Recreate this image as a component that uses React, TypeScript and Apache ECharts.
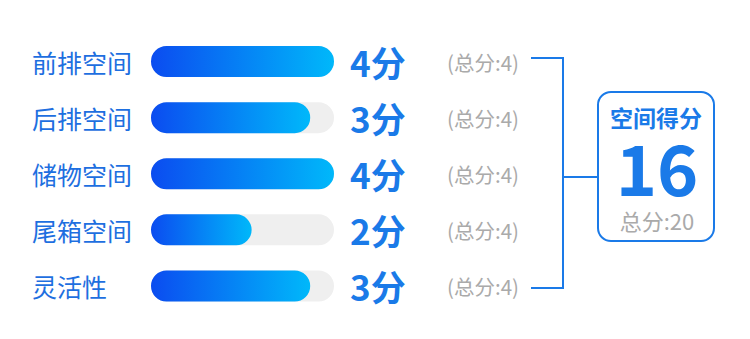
import React, { useEffect, useRef } from "react";
import * as echarts from "echarts";

const categories = ["前排空间", "后排空间", "储物空间", "尾箱空间", "灵活性"];
const scores = [4, 3, 4, 2, 3];
const maxScores = [4, 4, 4, 4, 4];
const barPercent = [100, 87, 100, 55, 87];
const trackValues = [100, 100, 100, 100, 100];
const totalTitle = "空间得分";
const totalScore = 16;
const totalMax = 20;

const FONT = "'Noto Sans CJK SC', 'Noto Sans', sans-serif";
const BLUE = "#1a7ae8";

export default function App() {
  const ref = useRef<HTMLDivElement>(null);
  useEffect(() => {
    if (!ref.current) return;
    const chart = echarts.init(ref.current, undefined, { renderer: "svg" });
    chart.setOption({
      animation: false,
      textStyle: { fontFamily: FONT },
      grid: { left: 151, right: 416, top: 33.5, bottom: 25 },
      xAxis: { type: "value", min: 0, max: 100, show: false },
      yAxis: {
        type: "category",
        inverse: true,
        data: categories,
        axisLine: { show: false },
        axisTick: { show: false },
        splitLine: { show: false },
        axisLabel: {
          align: "left",
          margin: 119,
          fontSize: 25,
          color: "#1e6fe0",
          fontFamily: FONT,
        },
      },
      series: [
        {
          type: "bar",
          data: trackValues,
          barWidth: 31,
          silent: true,
          itemStyle: { color: "#efefef", borderRadius: 15.5 },
          label: {
            show: true,
            position: "right",
            distance: 16,
            formatter: (p: any) =>
              `{a|${scores[p.dataIndex]}分}{b|(总分:${maxScores[p.dataIndex]})}`,
            rich: {
              a: {
                width: 97,
                fontSize: 35,
                fontWeight: "bold",
                color: BLUE,
                fontFamily: FONT,
              },
              b: { fontSize: 20.5, color: "#aaaaaa", fontFamily: FONT },
            },
          },
        },
        {
          type: "bar",
          data: barPercent,
          barWidth: 31,
          barGap: "-100%",
          itemStyle: {
            borderRadius: 15.5,
            color: new echarts.graphic.LinearGradient(0, 0, 1, 0, [
              { offset: 0, color: "#0b4cf0" },
              { offset: 1, color: "#00b8fa" },
            ]),
          },
        },
      ],
      graphic: [
        {
          type: "polyline",
          shape: { points: [[531, 58], [563, 58], [563, 288], [531, 288]] },
          style: { stroke: BLUE, lineWidth: 2, fill: null },
        },
        {
          type: "line",
          shape: { x1: 563, y1: 177, x2: 597, y2: 177 },
          style: { stroke: BLUE, lineWidth: 2 },
        },
        {
          type: "rect",
          shape: { x: 598, y: 92, width: 116, height: 149, r: 13 },
          style: { fill: "#fff", stroke: BLUE, lineWidth: 2 },
        },
        {
          type: "text",
          x: 656,
          y: 117,
          style: {
            text: totalTitle,
            fontSize: 23,
            lineHeight: 22,
            fontWeight: "bold",
            fill: BLUE,
            fontFamily: FONT,
            align: "center",
            verticalAlign: "middle",
          },
        },
        {
          type: "text",
          x: 657,
          y: 165,
          style: {
            text: String(totalScore),
            fontSize: 70,
            lineHeight: 52,
            fontWeight: "bold",
            fill: BLUE,
            fontFamily: FONT,
            align: "center",
            verticalAlign: "middle",
          },
        },
        {
          type: "text",
          x: 657,
          y: 220,
          style: {
            text: `总分:${totalMax}`,
            fontSize: 22,
            lineHeight: 20,
            fill: "#aaaaaa",
            fontFamily: FONT,
            align: "center",
            verticalAlign: "middle",
          },
        },
      ],
    });
    return () => chart.dispose();
  }, []);
  return (
    <div
      ref={ref}
      style={{ width: 750, height: 339, position: "absolute", left: 0, top: 0 }}
    />
  );
}
